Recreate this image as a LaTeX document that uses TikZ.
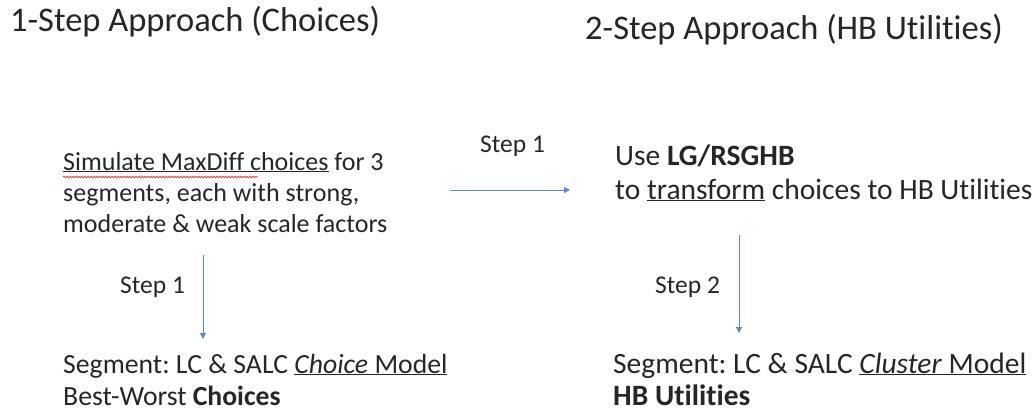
\documentclass[tikz,border=0pt]{standalone}
\usepackage{fontspec}
\setmainfont[Ligatures={NoCommon},RawFeature={-liga;-clig;-calt;-dlig}]{Carlito}
\usetikzlibrary{arrows.meta,decorations.pathmorphing}
\definecolor{txt}{HTML}{262626}
\definecolor{arr}{HTML}{5B86D0}
\definecolor{squig}{HTML}{E04040}
\newcommand\myul[1]{\underline{#1}}
\frenchspacing
\tikzset{
  title/.style={anchor=base west,inner sep=0pt,text=txt,font=\fontsize{34.5}{40}\selectfont},
  body/.style n args={2}{anchor=base west,inner sep=0pt,text=txt,align=left,font=\fontsize{#1}{#2}\selectfont\frenchspacing},
  steplabel/.style={anchor=base west,inner sep=0pt,text=txt,font=\fontsize{25.5}{28}\selectfont},
  flow/.style={draw=arr,line width=0.9pt,-{Triangle[length=6pt,width=6pt]}},
}
\begin{document}
\begin{tikzpicture}[x=1pt,y=-1pt]
\useasboundingbox (0,0) rectangle (1034,412);
\node[title] (t1) at (10,32) {1-Step Approach (Choices)};
\node[title] (t2) at (585,40) {2-Step Approach (HB Utilities)};
\node[body={26}{31}] (a) at (63,232) {\myul{Simulate MaxDiff choices} for 3\\segments, each with strong,\\moderate \& weak scale factors};
\node[body={29.5}{34}] (b) at (615,199) {Use \textbf{LG/RSGHB}\\to \myul{transform} choices to HB Utilities};
\node[body={27.7}{32}] (c) at (63,405) {Segment: LC \& SALC \myul{\textit{Choice} Model}\\Best-Worst \textbf{Choices}};
\node[body={29.5}{32}] (d) at (613,405) {Segment: LC \& SALC \myul{\textit{Cluster} Model}\\\textbf{HB Utilities}};
\node[steplabel] (s1) at (480,152) {Step 1};
\node[steplabel] (s2) at (120,293) {Step 1};
\node[steplabel] (s3) at (655,293) {Step 2};
\coordinate (h0) at (450,190);
\coordinate (h1) at (570,190);
\coordinate (l0) at (203,255);
\coordinate (l1) at (203,339);
\coordinate (r0) at (739,235);
\coordinate (r1) at (739,333);
\coordinate (q0) at (63,177);
\coordinate (q1) at (258,177);
\draw[flow] (h0) -- (h1);
\draw[flow] (l0) -- (l1);
\draw[flow] (r0) -- (r1);
\draw[squig,line width=0.8pt,decorate,decoration={snake,amplitude=0.8pt,segment length=3pt}] (q0) -- (q1);
\end{tikzpicture}
\end{document}
